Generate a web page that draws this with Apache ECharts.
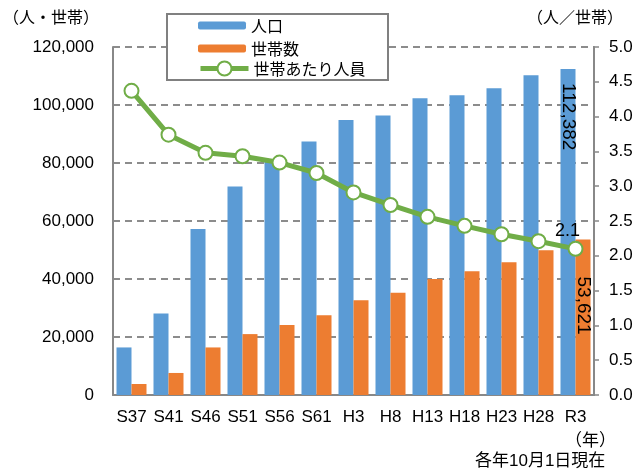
<!DOCTYPE html>
<html>
<head>
<meta charset="utf-8">
<script src="https://cdn.jsdelivr.net/npm/echarts@6/dist/echarts.min.js"></script>
<style>
html,body{margin:0;padding:0;background:#fff;}
#chart{width:644px;height:470px;}
</style>
</head>
<body>
<div id="chart"></div>
<script>
var categories = ['S37','S41','S46','S51','S56','S61','H3','H8','H13','H18','H23','H28','R3'];
var population = [16400, 28100, 57200, 71900, 80600, 87400, 94800, 96400, 102300, 103400, 105800, 110300, 112382];
var households = [3800, 7600, 16400, 21000, 24100, 27500, 32700, 35300, 40000, 42700, 45800, 49900, 53621];
var perHousehold = [4.37, 3.74, 3.48, 3.43, 3.34, 3.19, 2.91, 2.73, 2.56, 2.43, 2.31, 2.21, 2.1];
var seriesNames = ['人口', '世帯数', '世帯あたり人員'];
var leftAxisName = '（人・世帯）';
var rightAxisName = '（人／世帯）';
var yearNote = '（年）';
var dateNote = '各年10月1日現在';

var FONT = "'Liberation Sans', 'Noto Sans CJK JP', sans-serif";
var CJK = "'Noto Sans CJK JP', sans-serif";
var BLUE = '#5B9BD5', ORANGE = '#ED7D31', GREEN = '#70AD47', GRAY = '#888888';

function lastLabel(arr, labelOpt) {
  return arr.map(function (v, i) {
    if (i === arr.length - 1) return { value: v, label: labelOpt };
    return v;
  });
}

var chart = echarts.init(document.getElementById('chart'), null, { renderer: 'canvas' });
chart.setOption({
  animation: false,
  textStyle: { fontFamily: FONT },
  grid: { left: 102, right: 50, top: 47, bottom: 75, containLabel: false },
  legend: [
    {
      data: [seriesNames[0], seriesNames[1]],
      orient: 'vertical', left: 198, top: 17.5, padding: 0,
      itemWidth: 48, itemHeight: 8, itemGap: 7,
      textStyle: { fontFamily: CJK, fontSize: 16, color: '#000', lineHeight: 16 },
      z: 10
    },
    {
      data: [seriesNames[2]],
      orient: 'vertical', left: 198, top: 60.5, padding: 0,
      itemWidth: 48, itemHeight: 17.5,
      lineStyle: { width: 5, color: GREEN },
      textStyle: { fontFamily: CJK, fontSize: 16, color: '#000', lineHeight: 16 },
      z: 10
    }
  ],
  graphic: [
    { type: 'rect', z: 5, shape: { x: 167, y: 14, width: 221, height: 66 },
      style: { fill: '#fff', stroke: '#808080', lineWidth: 2 } },
    { type: 'text', z: 5, left: 565, top: 431,
      style: { text: yearNote, font: "17px 'Noto Sans CJK JP'", fill: '#000' } },
    { type: 'text', z: 5, left: 475, top: 453,
      style: { text: dateNote, font: "17px 'Liberation Sans', 'Noto Sans CJK JP'", fill: '#000' } }
  ],
  xAxis: {
    type: 'category',
    data: categories,
    axisLine: { show: true, lineStyle: { color: GRAY, width: 2 } },
    axisTick: { show: false },
    axisLabel: { fontSize: 17, color: '#000', margin: 14, fontFamily: FONT, interval: 0 }
  },
  yAxis: [
    {
      type: 'value', min: 0, max: 120000, interval: 20000,
      name: leftAxisName, nameLocation: 'end', nameGap: 22,
      nameTextStyle: { fontFamily: CJK, fontSize: 16, color: '#000', align: 'right', padding: [0, 14, 0, 0] },
      axisLine: { show: true, lineStyle: { color: GRAY, width: 2 } },
      axisTick: { show: false },
      splitLine: { show: true, lineStyle: { color: '#8c8c8c', width: 2, type: [7, 5] } },
      axisLabel: { fontSize: 17, color: '#000', margin: 19,
        formatter: function (v) { return v.toLocaleString('en-US'); } }
    },
    {
      type: 'value', min: 0, max: 5, interval: 0.5, position: 'right',
      name: rightAxisName, nameLocation: 'end', nameGap: 22,
      nameTextStyle: { fontFamily: CJK, fontSize: 16, color: '#000', align: 'center', padding: [0, 38, 0, 0] },
      axisLine: { show: true, lineStyle: { color: GRAY, width: 2 } },
      axisTick: { show: true, length: 5, lineStyle: { color: GRAY, width: 1.5 } },
      splitLine: { show: false },
      axisLabel: { fontSize: 17, color: '#000', margin: 15,
        formatter: function (v) { return v.toFixed(1); } }
    }
  ],
  series: [
    {
      name: seriesNames[0], type: 'bar', yAxisIndex: 0,
      barWidth: 15, barGap: '0%',
      itemStyle: { color: BLUE },
      data: lastLabel(population, {
        show: true, position: 'insideTop', distance: 14, rotate: -90,
        align: 'left', verticalAlign: 'middle', fontSize: 19, color: '#000', fontFamily: FONT,
        formatter: function (p) { return p.value.toLocaleString('en-US'); }
      })
    },
    {
      name: seriesNames[1], type: 'bar', yAxisIndex: 0,
      barWidth: 15, barGap: '0%',
      itemStyle: { color: ORANGE },
      data: lastLabel(households, {
        show: true, position: 'insideTop', distance: 37, rotate: -90,
        align: 'left', verticalAlign: 'middle', fontSize: 19, color: '#000', fontFamily: FONT,
        formatter: function (p) { return p.value.toLocaleString('en-US'); }
      })
    },
    {
      name: seriesNames[2], type: 'line', yAxisIndex: 1, z: 5,
      symbol: 'circle', symbolSize: 14,
      lineStyle: { color: GREEN, width: 5 },
      itemStyle: { color: '#fff', borderColor: GREEN, borderWidth: 2 },
      data: lastLabel(perHousehold, {
        show: true, position: 'top', distance: 1, offset: [-8, 0],
        fontSize: 18, color: '#000', fontFamily: FONT,
        formatter: function (p) { return p.value.toFixed(1); }
      })
    }
  ]
});
</script>
</body>
</html>
